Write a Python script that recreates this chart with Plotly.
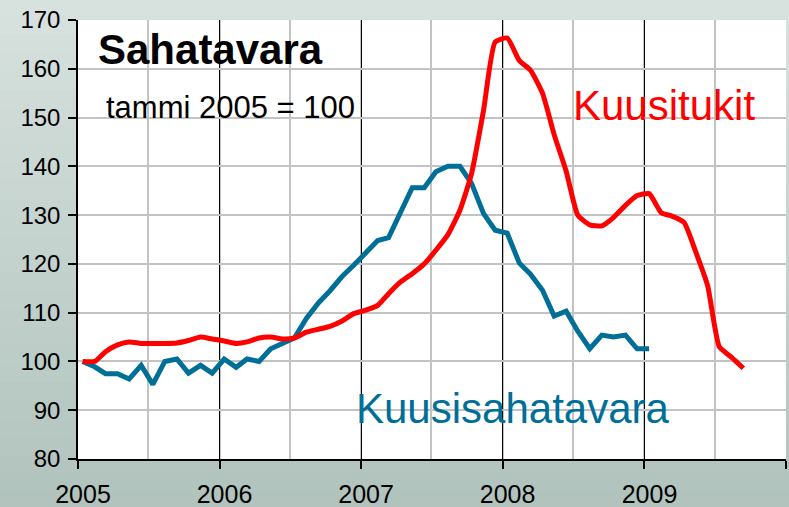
import pandas as pd
import plotly.graph_objects as go

# Monthly index values, tammi 2005 = 100
start_month = "2005-01-01"
kuusitukit = [100, 100, 102, 103.4, 104.0, 103.7, 103.7, 103.7, 103.8, 104.3, 105, 104.6,
              104.2, 103.7, 104, 104.8, 105.0, 104.6, 104.8, 106, 106.6, 107.2, 108.3, 109.8,
              110.5, 111.5, 113.9, 116.3, 118, 120, 122.8, 126, 131, 138.5, 151.5, 165.5,
              166.3, 161.7, 159.7, 155, 146.5, 139, 130, 128, 127.8, 129.5, 132, 134,
              134.4, 130.5, 129.8, 128.5, 122.5, 115.5, 103, 100.9, 98.6]
kuusisahatavara = [100, 98.9, 97.5, 97.5, 96.4, 99.2, 95.3, 100, 100.5, 97.6, 99.2, 97.6,
                   100.5, 98.8, 100.5, 100, 102.6, 103.6, 104.8, 108.8, 112, 114.5, 117.4, 119.7,
                   122.3, 124.8, 125.4, 130.5, 135.6, 135.6, 138.9, 140, 140, 136.5, 130.3, 126.9,
                   126.3, 120.2, 117.9, 114.6, 109.3, 110.3, 106.2, 102.6, 105.4, 105, 105.4, 102.6,
                   102.6]
year_ticks = ["2005", "2006", "2007", "2008", "2009", "2010"]
year_labels = ["2005", "2006", "2007", "2008", "2009", ""]

RED = "#ff0000"
BLUE = "#006f98"
FONT = "Liberation Sans, Arial, sans-serif"

def month_dates(n):
    # Excel places monthly points slightly after the year tick
    return pd.date_range(start_month, periods=n, freq="MS") + pd.Timedelta(days=12)

fig = go.Figure()
fig.add_trace(go.Scatter(x=month_dates(len(kuusisahatavara)), y=kuusisahatavara, mode="lines",
                         line=dict(color=BLUE, width=5), name="Kuusisahatavara"))
fig.add_trace(go.Scatter(x=month_dates(len(kuusitukit)), y=kuusitukit, mode="lines",
                         line=dict(color=RED, width=5, shape="spline", smoothing=0.5),
                         name="Kuusitukit"))

# background gradient (paper)
shapes = []
top = (0xd7, 0xe1, 0xde)
bot = (0xae, 0xc1, 0xba)
nb = 30
for i in range(nb):
    t = i / (nb - 1)
    c = tuple(round(top[k] + (bot[k] - top[k]) * t) for k in range(3))
    y1 = 1.05 - i * (1.25 / nb)
    y0 = y1 - 1.25 / nb - 0.01
    shapes.append(dict(type="rect", xref="paper", yref="paper", x0=-0.2, x1=1.1, y0=y0, y1=y1,
                       fillcolor="rgb(%d,%d,%d)" % c, line=dict(width=0), layer="below"))
shapes.append(dict(type="rect", xref="paper", yref="paper", x0=0, x1=1, y0=0, y1=1,
                   fillcolor="white", line=dict(width=0), layer="below"))

fig.update_layout(
    width=789, height=507,
    margin=dict(l=78, r=3, t=20, b=48),
    paper_bgcolor="#c4d2cd", plot_bgcolor="white",
    showlegend=False, shapes=shapes,
    font=dict(family=FONT, color="black"),
)
fig.update_xaxes(
    type="date", range=["2005-01-01", "2010-01-01"],
    tickvals=year_ticks, ticktext=year_labels,
    ticks="outside", ticklen=8, tickcolor="black", tickwidth=1.5,
    showline=True, linecolor="black", linewidth=1.5,
    showgrid=True, gridcolor="black", gridwidth=1.3,
    minor=dict(dtick="M6", showgrid=True, gridcolor="#c3c3c3", gridwidth=1.5, ticks=""),
    tickfont=dict(size=25, family=FONT, color="black"),
    ticklabelshift=5, ticklabelstandoff=4,
    zeroline=False, automargin=False,
)
fig.update_yaxes(
    range=[80, 170], dtick=10,
    ticks="outside", ticklen=8, tickcolor="black", tickwidth=1.5,
    showline=True, linecolor="black", linewidth=1.5,
    showgrid=True, gridcolor="#c3c3c3", gridwidth=1.5,
    tickfont=dict(size=24, family=FONT, color="black"),
    ticklabelstandoff=3, zeroline=False, automargin=False,
)

def px_to_paper(px, py):
    return (px - 78) / 708, (459 - py) / 439

anns = [
    ("<b>Sahatavara</b>", 97, 49, 42, "black"),
    ("tammi 2005 = 100", 105, 107, 31, "black"),
    ("Kuusitukit", 572, 105, 42, RED),
    ("Kuusisahatavara", 355, 408, 42, BLUE),
]
for text, px, py, size, col in anns:
    xp, yp = px_to_paper(px, py)
    fig.add_annotation(text=text, x=xp, y=yp, xref="paper", yref="paper",
                       xanchor="left", yanchor="middle", showarrow=False,
                       font=dict(size=size, family=FONT, color=col), borderpad=0)

fig.write_html("out.html", config={"displayModeBar": False},
               post_script="document.body.style.margin='0';document.body.style.overflow='hidden';")
